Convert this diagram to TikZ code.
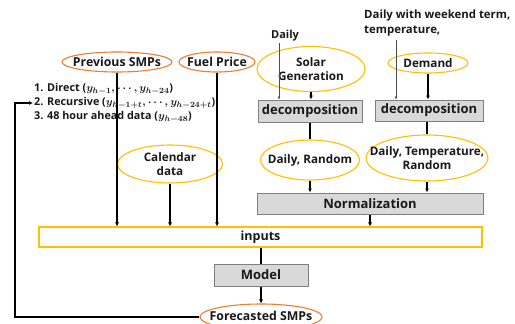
\documentclass[tikz,border=0pt]{standalone}
\usepackage{fontspec}
\setmainfont{Open Sans}
\usetikzlibrary{shapes.geometric,arrows.meta}
\definecolor{orng}{HTML}{ED7D31}
\definecolor{gold}{HTML}{FFC000}
\definecolor{boxfill}{HTML}{D9D9D9}
\definecolor{boxline}{HTML}{7F7F7F}
\tikzset{
  every node/.style={font=\bfseries, text=black!90, inner sep=0pt},
  oell/.style={ellipse, draw=orng, line width=1.1pt, fill=white},
  yell/.style={ellipse, draw=gold, line width=1.1pt, fill=white},
  etxt/.style={align=center, font=\bfseries\fontsize{11.7}{14.5}\selectfont},
  otxt/.style={font=\bfseries\fontsize{12.3}{14}\selectfont},
  gbox/.style={rectangle, draw=boxline, line width=1pt, fill=boxfill, font=\bfseries\fontsize{13}{15}\selectfont},
  arr/.style={line width=1.4pt, -{Latex[length=4pt,width=4pt]}},
  ln/.style={line width=1.4pt},
  thinarr/.style={line width=0.5pt, black!70, -{Latex[length=3pt,width=3pt]}},
}
\begin{document}
\begin{tikzpicture}[x=1pt,y=-1pt]
\useasboundingbox (0,0) rectangle (515,324);
% top left
\node[oell, minimum width=110, minimum height=20] (prev) at (117,62) {};
\node[otxt] (prevtxt) at (prev) {Previous SMPs};
\node[oell, minimum width=76, minimum height=20] (fuel) at (217,62) {};
\node[otxt] (fueltxt) at (fuel) {Fuel Price};
\node[anchor=west, align=left, font=\bfseries\boldmath\fontsize{10.8}{14}\selectfont] (list) at (34,103)
 {1. Direct ($y_{h-1},\cdots,y_{h-24}$)\\
  2. Recursive ($y_{h-1+t},\cdots,y_{h-24+t}$)\\
  3. 48 hour ahead data ($y_{h-48}$)};
\node[yell, minimum width=105, minimum height=38] (cal) at (170,164) {};
\node[etxt] (caltxt) at (cal) {Calendar\\data};
% solar column
\node[font=\bfseries\fontsize{11}{12}\selectfont] (dailytxt) at (285,36) {Daily};
\node[yell, minimum width=108, minimum height=45] (solar) at (311,69) {};
\node[etxt] (solartxt) at (solar) {Solar\\Generation};
\node[gbox, minimum width=104, minimum height=22] (dec1) at (310,111) {decomposition};
\node[yell, minimum width=99, minimum height=40] (dr) at (310,160) {};
\node[etxt] (drtxt) at (dr) {Daily, Random};
% demand column
\node[anchor=north west, align=left, font=\bfseries\fontsize{11.4}{15}\selectfont] (wk) at (364,10) {Daily with weekend term,\\temperature,};
\node[yell, minimum width=80, minimum height=20] (demand) at (428,63) {};
\node[etxt] (demandtxt) at (demand) {Demand};
\node[gbox, minimum width=108, minimum height=21] (dec2) at (429,110.5) {decomposition};
\node[yell, minimum width=122, minimum height=46] (dtr) at (427,158) {};
\node[etxt, font=\bfseries\fontsize{11.7}{14}\selectfont] (dtrtxt) at (dtr) {Daily, Temperature,\\Random};
% lower part
\node[gbox, minimum width=226, minimum height=21] (norm) at (370,203.5) {Normalization};
\node[rectangle, draw=gold, line width=1.1pt, fill=white, minimum width=443, minimum height=20, font=\bfseries\fontsize{12.5}{14}\selectfont] (inputs) at (260.5,237) {inputs};
\node[gbox, minimum width=94, minimum height=22] (model) at (261,275) {Model};
\node[oell, minimum width=122, minimum height=26] (fore) at (261,317) {};
\node[otxt, anchor=base] (foretxt) at (261,320) {Forecasted SMPs};
% connectors
\draw[arr] (prev.south) -- (prev.south |- inputs.north);
\draw[arr] (fuel.south) -- (fuel.south |- inputs.north);
\draw[arr] (cal.south) -- (cal.south |- inputs.north);
\draw[arr] (norm.south) -- (norm.south |- inputs.north);
\draw[ln] (model.north |- inputs.south) -- (model.north);
\draw[arr] (model.south) -- (fore.north);
\coordinate (fbc) at (15,317);
\coordinate (fbend) at (33,103);
\draw[arr] (fore.west) -- (fbc) |- (fbend);
\coordinate (dline) at (279,43);
\draw[thinarr] (dline) -- (dline |- dec1.north);
\coordinate (wline) at (396,40);
\draw[thinarr] (wline) -- (wline |- dec2.north);
\draw[arr] (solar.south) -- (dec1.north -| solar.south);
\draw[arr] (demand.south) -- (dec2.north -| demand.south);
\draw[ln] (dec1.south) -- (dr.north -| dec1.south);
\draw[ln] (dec2.south -| dtr.north) -- (dtr.north);
\draw[arr] (dr.south) -- (norm.north -| dr.south);
\draw[arr] (dtr.south) -- (norm.north -| dtr.south);
\end{tikzpicture}
\end{document}
